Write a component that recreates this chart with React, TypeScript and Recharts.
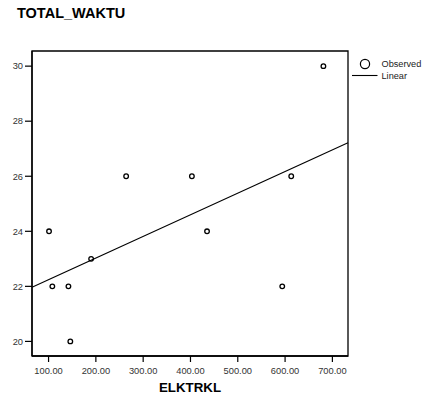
import React from "react";
import { ScatterChart, Scatter, XAxis, YAxis, ReferenceLine, ReferenceArea } from "recharts";

const elktrkl = [101, 108, 142, 146, 190, 264, 403, 435, 594, 613, 681];
const totalWaktu = [24, 22, 22, 20, 23, 26, 26, 24, 22, 26, 30];
const fitX = [65, 733];
const fitY = [21.97, 27.22];
const xTicks = [100, 200, 300, 400, 500, 600, 700];
const yTicks = [20, 22, 24, 26, 28, 30];
const xDomain = [65, 733];
const yDomain = [19.47, 30.55];

const observed = elktrkl.map((x, i) => ({ x, y: totalWaktu[i] }));
const fitLine = fitX.map((x, i) => ({ x, y: fitY[i] }));

const FONT = "'Liberation Sans', Arial, sans-serif";

const OpenCircle = (props: any) => (
    <circle cx={props.cx} cy={props.cy} r={2.3} fill="none" stroke="#000" strokeWidth={1.3} />
);

export default function App() {
    return (
        <div style={{ position: "absolute", left: 0, top: 0, width: 429, height: 396, background: "#fff", fontFamily: FONT }}>
            <ScatterChart width={429} height={396} margin={{ top: 51, right: 81, bottom: 0, left: 0 }}>
                <XAxis
                    type="number"
                    dataKey="x"
                    domain={xDomain}
                    ticks={xTicks}
                    allowDataOverflow
                    height={40}
                    tickSize={6}
                    tickMargin={5}
                    tickFormatter={(v: number) => v.toFixed(2)}
                    tick={{ fontSize: 9.3, fill: "#333", fontFamily: FONT }}
                    tickLine={{ stroke: "#000", strokeWidth: 1.2 }}
                    axisLine={{ stroke: "#000", strokeWidth: 1.3 }}
                    label={{ value: "ELKTRKL", position: "insideBottom", offset: 4, fontSize: 13.3, fontWeight: "bold", fill: "#000", fontFamily: FONT }}
                />
                <YAxis
                    type="number"
                    dataKey="y"
                    domain={yDomain}
                    ticks={yTicks}
                    allowDataOverflow
                    width={32}
                    tickSize={7}
                    tickMargin={2}
                    tick={{ fontSize: 9.3, fill: "#333", fontFamily: FONT }}
                    tickLine={{ stroke: "#000", strokeWidth: 1.2 }}
                    axisLine={{ stroke: "#000", strokeWidth: 1.3 }}
                />
                <ReferenceArea
                    x1={xDomain[0]}
                    x2={xDomain[1]}
                    y1={yDomain[0]}
                    y2={yDomain[1]}
                    fill="none"
                    stroke="#000"
                    strokeWidth={1.3}
                    fillOpacity={0}
                />
                <ReferenceLine
                    segment={[fitLine[0], fitLine[1]]}
                    stroke="#000"
                    strokeWidth={1.1}
                />
                <Scatter data={observed} shape={OpenCircle} isAnimationActive={false} />
            </ScatterChart>
            <svg width={429} height={396} style={{ position: "absolute", left: 0, top: 0, pointerEvents: "none" }}>
                <text x={17} y={18} fontSize={14.5} fontWeight="bold" fill="#000" fontFamily={FONT}>
                    TOTAL_WAKTU
                </text>
                <circle cx={365} cy={64} r={4.6} fill="none" stroke="#000" strokeWidth={1.2} />
                <text x={381.5} y={67.3} fontSize={9.2} fill="#222" fontFamily={FONT}>
                    Observed
                </text>
                <line x1={352} x2={377.5} y1={75.5} y2={75.5} stroke="#000" strokeWidth={1.1} />
                <text x={381.5} y={78.8} fontSize={9.2} fill="#222" fontFamily={FONT}>
                    Linear
                </text>
            </svg>
        </div>
    );
}
